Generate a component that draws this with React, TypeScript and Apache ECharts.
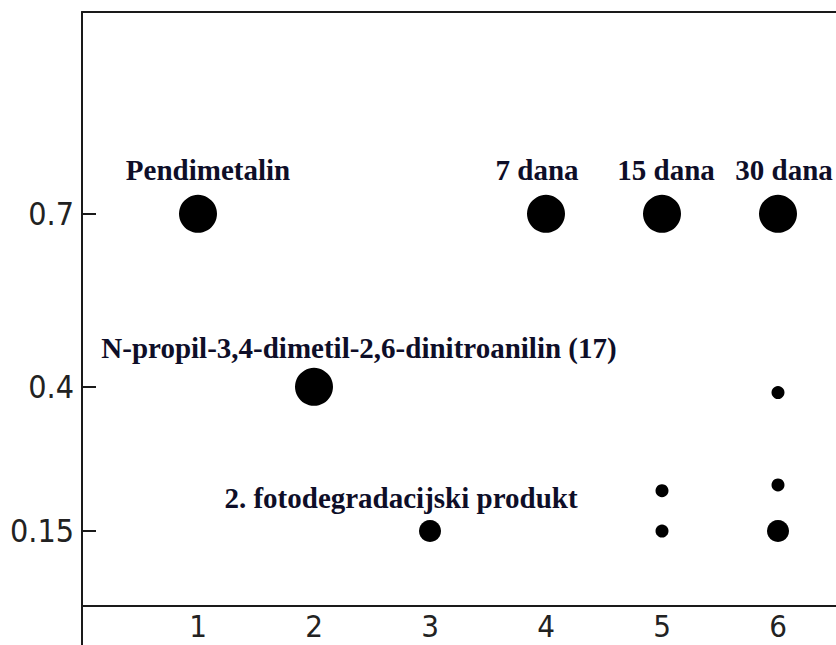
import React, { useEffect, useRef } from "react";
import * as echarts from "echarts";

// Lanes (x axis) and Rf ticks (y axis)
const lanes = [1, 2, 3, 4, 5, 6];
const rfTicks = [0.15, 0.4, 0.7];

// Caption written above each lane's main spot
const laneCaptions = [
  "Pendimetalin",
  "N-propil-3,4-dimetil-2,6-dinitroanilin (17)",
  "2. fotodegradacijski produkt",
  "7 dana",
  "15 dana",
  "30 dana",
];

// Spots: lane and Rf value of every spot
const spotLane = [1, 4, 5, 6, 2, 6, 3, 5, 6, 5, 6];
const spotRf = [0.7, 0.7, 0.7, 0.7, 0.4, 0.39, 0.15, 0.15, 0.15, 0.22, 0.23];
const spotClass = ["major", "major", "major", "major", "major", "minor", "medium", "minor", "medium", "minor", "minor"];

// Styling (kept apart from the data)
const sizeByClass: Record<string, number> = { major: 38, medium: 22, minor: 13 };
const captionOffset: Record<number, number[]> = { 1: [10, 0], 2: [45, 0], 3: [-29, 0], 4: [-9, 0], 5: [4, 0], 6: [6, 0] };
const captionDistance: Record<number, number> = { 1: 10, 2: 5, 3: 8, 4: 10, 5: 10, 6: 10 };

const TEXT_FONT = "'Liberation Serif', 'Times New Roman', serif";
const AXIS_FONT = "'DejaVu Sans Condensed', 'Liberation Sans Narrow', sans-serif";

export default function App() {
  const ref = useRef<HTMLDivElement>(null);

  useEffect(() => {
    if (!ref.current) return;
    const chart = echarts.init(ref.current, undefined, { renderer: "svg" });

    const seen = new Set<number>();
    const data = spotLane.map((lane, i) => {
      const first = !seen.has(lane);
      seen.add(lane);
      const item: any = {
        value: [lane, spotRf[i]],
        symbolSize: sizeByClass[spotClass[i]],
      };
      if (first) {
        item.label = {
          show: true,
          formatter: laneCaptions[lanes.indexOf(lane)],
          position: "top",
          distance: captionDistance[lane],
          offset: captionOffset[lane],
          fontFamily: TEXT_FONT,
          fontWeight: "bold",
          fontSize: 29,
          color: "#0e0e28",
          opacity: 1,
        };
      }
      return item;
    });

    chart.setOption({
      animation: false,
      backgroundColor: "#ffffff",
      grid: { left: 82, right: 0, top: 12, bottom: 39, containLabel: false },
      xAxis: [
        {
          type: "value",
          min: 0,
          max: 6.5,
          interval: 1,
          axisLine: { show: true, lineStyle: { color: "#1a1a1a", width: 2 } },
          axisTick: { show: false },
          splitLine: { show: false },
          axisLabel: {
            customValues: lanes,
            margin: 4,
            fontFamily: AXIS_FONT,
            fontSize: 31,
            color: "#222222",
          },
        },
        {
          type: "value",
          position: "top",
          min: 0,
          max: 6.5,
          axisLine: { show: true, lineStyle: { color: "#1a1a1a", width: 2 } },
          axisTick: { show: false },
          axisLabel: { show: false },
          splitLine: { show: false },
        },
      ],
      yAxis: {
        type: "value",
        min: 0.02,
        max: 1.05,
        axisLine: { show: true, lineStyle: { color: "#1a1a1a", width: 2 } },
        axisTick: {
          show: true,
          inside: true,
          length: 14,
          customValues: rfTicks,
          lineStyle: { color: "#1a1a1a", width: 2 },
        },
        splitLine: { show: false },
        axisLabel: {
          customValues: rfTicks,
          margin: 8,
          formatter: (v: number) => String(v),
          fontFamily: AXIS_FONT,
          fontSize: 32,
          color: "#222222",
        },
      },
      graphic: [
        {
          type: "line",
          shape: { x1: 82, y1: 606, x2: 82, y2: 645 },
          style: { stroke: "#1a1a1a", lineWidth: 2 },
        },
      ],
      series: [
        {
          type: "scatter",
          symbol: "circle",
          itemStyle: { color: "#000000", opacity: 1 },
          data,
        },
      ],
    });

    return () => chart.dispose();
  }, []);

  return (
    <div
      ref={ref}
      style={{ position: "absolute", left: 0, top: 0, width: 836, height: 645 }}
    />
  );
}
